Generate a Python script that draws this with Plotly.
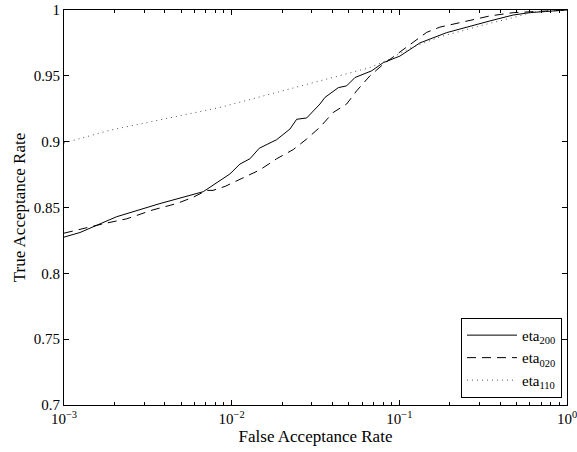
import plotly.graph_objects as go

# ---- data ----
far_200 = [0.001, 0.001245, 0.00206, 0.003736, 0.00677, 0.00851, 0.00977, 0.0112, 0.01285,
           0.0146, 0.01854, 0.02227, 0.02441, 0.02801, 0.03362, 0.03601, 0.04322, 0.04851,
           0.05435, 0.06836, 0.0802, 0.1008, 0.1327, 0.1914, 0.2636, 0.347, 0.4779, 0.6008, 1.0]
tar_200 = [0.8275, 0.831, 0.843, 0.853, 0.862, 0.8705, 0.8755, 0.883, 0.887,
           0.895, 0.9015, 0.9096, 0.917, 0.918, 0.9286, 0.9336, 0.941, 0.9424,
           0.9487, 0.9538, 0.960, 0.965, 0.975, 0.9828, 0.9879, 0.9917, 0.9962, 0.998, 1.0]

far_020 = [0.001, 0.001245, 0.00171, 0.002365, 0.003395, 0.0047, 0.0059, 0.0071, 0.00774,
           0.00912, 0.01172, 0.01475, 0.01854, 0.0233, 0.02801, 0.03362, 0.04035, 0.04851,
           0.05564, 0.06679, 0.0802, 0.1008, 0.1211, 0.1455, 0.1746, 0.2519, 0.347, 0.4779, 1.0]
tar_020 = [0.8305, 0.8336, 0.8376, 0.8414, 0.8482, 0.853, 0.8578, 0.863, 0.863,
           0.866, 0.8725, 0.8786, 0.887, 0.894, 0.902, 0.911, 0.9222, 0.9286,
           0.9386, 0.95, 0.9588, 0.968, 0.976, 0.983, 0.987, 0.9915, 0.9955, 0.998, 1.0]

far_110 = [0.001, 0.00188, 0.003257, 0.00647, 0.00851, 0.01285, 0.03362, 0.06679, 0.08404,
           0.1157, 0.1746, 0.3164, 0.5006, 0.628, 1.0]
tar_110 = [0.899, 0.9087, 0.915, 0.9225, 0.926, 0.932, 0.946, 0.9563, 0.9617,
           0.971, 0.9796, 0.9886, 0.9949, 0.9985, 1.0]

series_names = ["eta<sub>200</sub>", "eta<sub>020</sub>", "eta<sub>110</sub>"]
x_tick_vals = [0.001, 0.01, 0.1, 1]
x_tick_text = ["10<sup>−3</sup>", "10<sup>−2</sup>", "10<sup>−1</sup>", "10<sup>0</sup>"]
y_tick_vals = [0.7, 0.75, 0.8, 0.85, 0.9, 0.95, 1.0]
y_tick_text = ["0.7", "0.75", "0.8", "0.85", "0.9", "0.95", "1"]

FONT = "Liberation Serif"

fig = go.Figure()
fig.add_trace(go.Scatter(x=far_200, y=tar_200, mode="lines", name=series_names[0],
                         line=dict(color="black", width=1, dash="solid")))
fig.add_trace(go.Scatter(x=far_020, y=tar_020, mode="lines", name=series_names[1],
                         line=dict(color="black", width=1, dash="9px,6px")))
fig.add_trace(go.Scatter(x=far_110, y=tar_110, mode="lines", name=series_names[2],
                         line=dict(color="#555555", width=1, dash="1px,4px")))

minor_vals = [m * 10 ** e for e in (-3, -2, -1) for m in range(2, 10)]

fig.update_layout(
    width=577, height=452,
    margin=dict(l=64, r=10, t=10, b=47, autoexpand=False),
    paper_bgcolor="white", plot_bgcolor="white",
    font=dict(family=FONT, size=15, color="black"),
    showlegend=True,
    legend=dict(x=0.99, y=0.018, xanchor="right", yanchor="bottom",
                bordercolor="black", borderwidth=1, bgcolor="white",
                font=dict(family=FONT, size=15, color="black"), itemwidth=50,
                tracegroupgap=0),
    xaxis=dict(type="log", range=[-3, 0], tickmode="array", tickvals=x_tick_vals,
               ticktext=x_tick_text, ticks="inside", ticklen=5, tickcolor="black",
               showline=True, linecolor="black", linewidth=1, mirror="ticks",
               showgrid=False, zeroline=False, automargin=True,
               ticklabeloverflow="allow",
               minor=dict(tickmode="array", tickvals=minor_vals, ticks="inside",
                          ticklen=3, tickcolor="black", showgrid=False),
               title=dict(text="False Acceptance Rate", standoff=0,
                          font=dict(family=FONT, size=17, color="black")),
               tickfont=dict(family=FONT, size=15, color="black")),
    yaxis=dict(range=[0.7, 1.0], tickmode="array", tickvals=y_tick_vals,
               ticktext=y_tick_text, ticks="inside", ticklen=5, tickcolor="black",
               showline=True, linecolor="black", linewidth=1, mirror="ticks",
               showgrid=False, zeroline=False, automargin=True,
               ticklabeloverflow="allow",
               title=dict(text="True Acceptance Rate", standoff=3,
                          font=dict(family=FONT, size=17, color="black")),
               tickfont=dict(family=FONT, size=15, color="black")),
)

fig.write_html("out.html", config={"displayModeBar": False},
               post_script="document.body.style.margin='0';document.body.style.overflow='hidden';")
